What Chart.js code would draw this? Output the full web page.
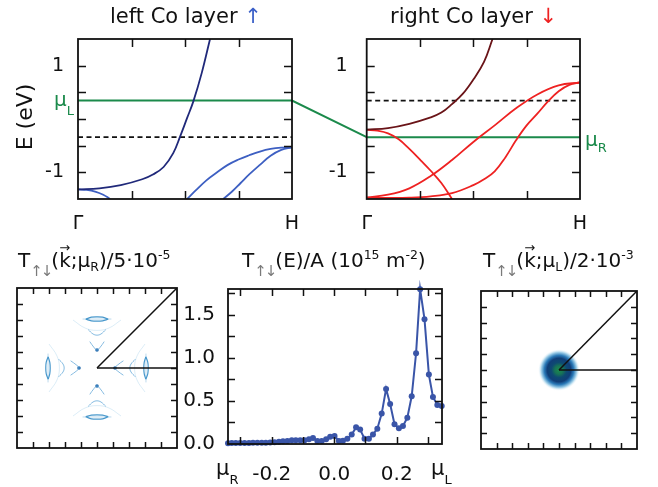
<!DOCTYPE html>
<html lang='en'>
<head>
<meta charset='UTF-8'>
<title>Co layer bands and spin transmission</title>
<script src='https://cdn.jsdelivr.net/npm/chart.js@4.4.1/dist/chart.umd.min.js'></script>
<style>
  body { margin: 0; background: #fff; font-family: 'DejaVu Sans', sans-serif; color: #111; }
  #fig { position: relative; width: 658px; height: 487px; overflow: hidden; }
  canvas { position: absolute; }
  .lbl { position: absolute; white-space: nowrap; line-height: 1; }
  .green { color: #1b8a4b; }
  .ttl { font-size: 20px; }
  .ttl sup { font-size: 12.5px; vertical-align: 8px; line-height: 0; }
  .ttl sub { font-size: 12.5px; vertical-align: -4px; line-height: 0; }
  .ttl sub.ud { color: #7a7a7a; font-size: 15px; vertical-align: -9px; letter-spacing: -2px; }
  .vk { position: relative; display: inline-block; }
  .va { position: absolute; left: 0; top: -9px; font-size: 13px; line-height: 1; }
</style>
</head>
<body>
<div id='fig'>
  <canvas id='bandL' width='380' height='232' style='left:0;top:0'></canvas>
  <canvas id='bandR' width='320' height='232' style='left:300px;top:0'></canvas>
  <canvas id='kmapR' width='200' height='200' style='left:0;top:270px'></canvas>
  <canvas id='trans' width='280' height='217' style='left:180px;top:270px'></canvas>
  <canvas id='kmapL' width='198' height='200' style='left:460px;top:270px'></canvas>

  <div class='lbl' style='left:110px;top:6px;font-size:21px'>left Co layer <span style='color:#3a5fc8'>↑</span></div>
  <div class='lbl' style='left:390px;top:6px;font-size:21px'>right Co layer <span style='color:#ee2222'>↓</span></div>
  <div class='lbl' style='left:25px;top:117px;font-size:22px;transform:translate(-50%,-50%) rotate(-90deg)'>E (eV)</div>
  <div class='lbl green' style='left:54px;top:89px;font-size:20px'>μ<span style='font-size:13px;vertical-align:-9px'>L</span></div>
  <div class='lbl green' style='left:585px;top:129px;font-size:20px'>μ<span style='font-size:13px;vertical-align:-6px'>R</span></div>

  <div class='lbl ttl' style='left:18px;top:250px'>T<sub class='ud'>↑↓</sub>(<span class='vk'>k<span class='va'>→</span></span>;μ<sub>R</sub>)/5·10<sup>-5</sup></div>
  <div class='lbl ttl' style='left:242px;top:250px'>T<sub class='ud'>↑↓</sub>(E)/A (10<sup>15</sup> m<sup>-2</sup>)</div>
  <div class='lbl ttl' style='left:483px;top:250px'>T<sub class='ud'>↑↓</sub>(<span class='vk'>k<span class='va'>→</span></span>;μ<sub>L</sub>)/2·10<sup>-3</sup></div>

  <div class='lbl' style='left:216px;top:458px;font-size:21px'>μ<span style='font-size:13px;vertical-align:-9px'>R</span></div>
  <div class='lbl' style='left:431px;top:458px;font-size:21px'>μ<span style='font-size:13px;vertical-align:-9px'>L</span></div>
</div>
<script>
  // chemical potentials (eV)
  const MU_L = 0.345;
  const MU_R = -0.34;

  // bands along Gamma -> H (k as fraction of the path, E in eV)
  const bandL1 = [[0,-1.32],[0.1,-1.3],[0.2,-1.24],[0.3,-1.13],[0.35,-1.04],[0.4,-0.9],[0.445,-0.64],[0.477,-0.33],[0.51,0.02],[0.539,0.33],[0.578,0.86],[0.617,1.5]];
  const bandL2 = [[0,-1.32],[0.04,-1.33],[0.08,-1.36],[0.118,-1.42],[0.15,-1.5]];
  const bandL3 = [[0.51,-1.5],[0.55,-1.34],[0.6,-1.15],[0.65,-1.0],[0.7,-0.86],[0.75,-0.76],[0.8,-0.68],[0.85,-0.61],[0.9,-0.56],[0.95,-0.535],[1,-0.53]];
  const bandL4 = [[0.679,-1.5],[0.72,-1.36],[0.76,-1.2],[0.8,-1.04],[0.85,-0.86],[0.9,-0.69],[0.95,-0.58],[1,-0.53]];

  const bandR1 = [[0,-0.2],[0.1,-0.17],[0.2,-0.09],[0.3,0.03],[0.35,0.12],[0.4,0.28],[0.45,0.47],[0.5,0.74],[0.55,1.07],[0.59,1.5]];
  const bandR2 = [[0,-0.2],[0.05,-0.22],[0.1,-0.27],[0.15,-0.38],[0.2,-0.56],[0.25,-0.76],[0.3,-0.97],[0.35,-1.2],[0.4,-1.5]];
  const bandR3 = [[0,-1.47],[0.1,-1.42],[0.2,-1.3],[0.3,-1.07],[0.4,-0.77],[0.5,-0.43],[0.6,-0.12],[0.7,0.2],[0.8,0.46],[0.9,0.63],[1,0.685]];
  const bandR4 = [[0,-1.48],[0.1,-1.48],[0.2,-1.475],[0.3,-1.45],[0.4,-1.39],[0.5,-1.24],[0.55,-1.13],[0.6,-0.98],[0.65,-0.72],[0.7,-0.4],[0.75,-0.12],[0.8,0.1],[0.85,0.33],[0.9,0.52],[0.95,0.64],[1,0.685]];

  const bandTicksE = [-1, 1];
  const bandTicksK = [0, 1];
  const bandTickNames = ['Γ', 'H'];

  // energy-resolved transmission
  const energies = [-0.340,-0.328,-0.315,-0.301,-0.287,-0.273,-0.260,-0.246,-0.232,-0.219,-0.205,-0.191,-0.177,-0.164,-0.150,-0.136,-0.123,-0.109,-0.095,-0.081,-0.068,-0.054,-0.040,-0.026,-0.013,0.001,0.015,0.028,0.042,0.056,0.070,0.083,0.097,0.111,0.124,0.138,0.152,0.166,0.179,0.193,0.207,0.220,0.234,0.248,0.262,0.275,0.289,0.303,0.316,0.330,0.344];
  const transmission = [0.010,0.011,0.012,0.012,0.013,0.013,0.014,0.014,0.015,0.015,0.016,0.019,0.027,0.031,0.035,0.043,0.043,0.043,0.043,0.054,0.070,0.035,0.035,0.054,0.085,0.093,0.035,0.039,0.062,0.109,0.194,0.167,0.062,0.062,0.109,0.178,0.353,0.640,0.465,0.229,0.182,0.209,0.306,0.554,1.054,1.798,1.449,0.806,0.547,0.453,0.442];
  const transTicksE = [-0.2, 0.0, 0.2];
  const transTicksT = [0, 0.5, 1.0, 1.5];

  // k-resolved map at mu_R: features seen along +ky (repeated for the other three directions)
  const kLensUpper = [[-0.14,0.61],[-0.07,0.635],[0,0.64],[0.07,0.635],[0.14,0.61]];
  const kLensLower = [[-0.14,0.61],[-0.07,0.59],[0,0.585],[0.07,0.59],[0.14,0.61]];
  const kLensAxis  = [[-0.18,0.612],[0.18,0.612]];
  const kArcOuter  = [[-0.3,0.6],[-0.15,0.5],[0,0.47],[0.15,0.5],[0.3,0.6]];
  const kArcMid    = [[-0.11,0.48],[-0.05,0.425],[0,0.41],[0.05,0.425],[0.11,0.48]];
  const kArcInner  = [[-0.09,0.33],[-0.04,0.26],[0,0.225],[0.04,0.26],[0.09,0.33]];
  const kSpot      = [[0,0.225]];

  // k-resolved map at mu_L: single spot at Gamma
  const spotX = [0], spotY = [0], spotR = [21];

  // Brillouin zone guide lines
  const guideAxis = [[0,0],[1,0]];
  const guideDiag = [[0,0],[1,1]];

  const pts = a => a.map(([x, y]) => ({x, y}));

  Chart.defaults.font.family = "'DejaVu Sans', sans-serif";
  Chart.defaults.color = '#111';
  Chart.defaults.animation = false;
  Chart.defaults.plugins.legend.display = false;
  Chart.defaults.plugins.tooltip.enabled = false;

  // closed frame with inward ticks on all four sides
  const frameTicks = {
    id: 'frameTicks',
    afterDatasetsDraw(chart, args, opts) {
      const {ctx, chartArea: a, scales: {x, y}} = chart;
      const len = opts.len || 6;
      ctx.save();
      ctx.strokeStyle = '#111';
      ctx.lineWidth = 1.5;
      ctx.beginPath();
      (opts.x || []).forEach(v => {
        const p = Math.round(x.getPixelForValue(v)) + 0.5;
        ctx.moveTo(p, a.top); ctx.lineTo(p, a.top + len);
        ctx.moveTo(p, a.bottom); ctx.lineTo(p, a.bottom - len);
      });
      (opts.y || []).forEach(v => {
        const p = Math.round(y.getPixelForValue(v)) + 0.5;
        ctx.moveTo(a.left, p); ctx.lineTo(a.left + len, p);
        ctx.moveTo(a.right, p); ctx.lineTo(a.right - len, p);
      });
      ctx.stroke();
      ctx.lineWidth = 1.8;
      ctx.strokeRect(a.left, a.top, a.width, a.height);
      ctx.restore();
    }
  };
  Chart.register(frameTicks);

  function line(data, color, width, extra) {
    return Object.assign({data: pts(data), borderColor: color, borderWidth: width, pointRadius: 0,
      tension: 0.4, fill: false}, extra || {});
  }

  function bandScales(yWidth, yPad) {
    return {
      x: {type: 'linear', min: 0, max: 1,
          afterBuildTicks: s => { s.ticks = bandTicksK.map(v => ({value: v})); },
          afterFit: s => { s.height = 33; },
          ticks: {callback: (v, i) => bandTickNames[i], padding: 6, font: {size: 19}, maxRotation: 0, autoSkip: false},
          grid: {display: false}, border: {display: false}},
      y: {type: 'linear', min: -1.5, max: 1.5,
          afterBuildTicks: s => { s.ticks = bandTicksE.map(v => ({value: v})); },
          afterFit: s => { s.width = yWidth; },
          ticks: {callback: v => String(v), padding: yPad, font: {size: 19}},
          grid: {display: false}, border: {display: false}}
    };
  }

  const bandTickOpts = {len: 8, x: [0.25, 0.5, 0.75], y: [-1, -0.5, 0, 0.5, 1]};

  // left panel: x = 78..292 px; right panel starts at 366.7 px
  const gapK = (366.7 - 78) / (292 - 78);

  new Chart(document.getElementById('bandL'), {
    type: 'line',
    data: {datasets: [
      line(bandL1, '#20297a', 1.8),
      line(bandL2, '#3d5fc2', 1.8),
      line(bandL3, '#3d5fc2', 1.8),
      line(bandL4, '#3d5fc2', 1.8),
      // mu_L across the panel and down to mu_R at the right panel (listed right to left)
      line([[gapK, MU_R], [1, MU_L], [0, MU_L]], '#1b8a4b', 2, {tension: 0, clip: false}),
      line([[0, MU_R], [1, MU_R]], '#111', 1.6, {borderDash: [5, 3.5], tension: 0})
    ]},
    options: {responsive: false, devicePixelRatio: 1,
      layout: {padding: {top: 39, right: 88, left: 0, bottom: 0}},
      scales: bandScales(78, 6),
      plugins: {frameTicks: bandTickOpts}}
  });

  new Chart(document.getElementById('bandR'), {
    type: 'line',
    data: {datasets: [
      line(bandR1, '#6a1418', 1.8),
      line(bandR2, '#ee2222', 1.8),
      line(bandR3, '#ee2222', 1.8),
      line(bandR4, '#ee2222', 1.8),
      line([[0, MU_R], [1, MU_R]], '#1b8a4b', 2, {tension: 0}),
      line([[0, MU_L], [1, MU_L]], '#111', 1.6, {borderDash: [5, 3.5], tension: 0})
    ]},
    options: {responsive: false, devicePixelRatio: 1,
      layout: {padding: {top: 39, right: 40, left: 0, bottom: 0}},
      scales: bandScales(66.7, 11),
      plugins: {frameTicks: bandTickOpts}}
  });

  new Chart(document.getElementById('trans'), {
    type: 'line',
    data: {datasets: [{
      data: energies.map((e, i) => ({x: e, y: transmission[i]})),
      borderColor: '#3a55a8', backgroundColor: '#3a55a8', borderWidth: 2,
      pointRadius: 3, pointBorderWidth: 0, tension: 0, clip: false
    }]},
    options: {responsive: false, devicePixelRatio: 1,
      layout: {padding: {top: 19, right: 18, left: 0, bottom: 0}},
      scales: {
        x: {type: 'linear', min: MU_R, max: MU_L,
            afterBuildTicks: s => { s.ticks = transTicksE.map(v => ({value: v})); },
            afterFit: s => { s.height = 43; },
            ticks: {callback: v => v.toFixed(1), padding: 11, font: {size: 20}, maxRotation: 0, autoSkip: false},
            grid: {display: false}, border: {display: false}},
        y: {type: 'linear', min: 0, max: 1.8,
            afterBuildTicks: s => { s.ticks = transTicksT.map(v => ({value: v})); },
            afterFit: s => { s.width = 48; },
            ticks: {callback: v => v.toFixed(1), padding: 5, font: {size: 20}},
            grid: {display: false}, border: {display: false}}
      },
      plugins: {frameTicks: {len: 7, x: [-0.3, -0.2, -0.1, 0, 0.1, 0.2, 0.3], y: [0.25, 0.5, 0.75, 1.0, 1.25, 1.5, 1.75]}}}
  });

  const kTicks = [-0.8, -0.6, -0.4, -0.2, 0, 0.2, 0.4, 0.6, 0.8];
  const kScales = {
    x: {type: 'linear', min: -1, max: 1, display: false},
    y: {type: 'linear', min: -1, max: 1, display: false}
  };

  // the four equivalent directions of the square lattice
  const turns = [p => p, ([x, y]) => [x, -y], ([x, y]) => [y, x], ([x, y]) => [-y, x]];
  const kFeatures = [];
  turns.forEach(t => {
    kFeatures.push(line(kArcOuter.map(t), 'rgba(140,195,230,0.3)', 1));
    kFeatures.push(line(kArcMid.map(t), 'rgba(95,165,215,0.75)', 1));
    kFeatures.push(line(kArcInner.map(t), 'rgba(95,165,215,0.75)', 1));
    kFeatures.push(line(kLensUpper.map(t), '#4898cc', 1.2));
    kFeatures.push(line(kLensLower.map(t), '#4898cc', 1.2));
    kFeatures.push(line(kLensAxis.map(t), 'rgba(90,160,210,0.5)', 0.8, {tension: 0}));
    kFeatures.push({type: 'scatter', data: pts(kSpot.map(t)), pointRadius: 1.8, backgroundColor: '#2a6fb0', borderWidth: 0});
  });

  new Chart(document.getElementById('kmapR'), {
    type: 'line',
    data: {datasets: [
      line(guideAxis, '#111', 1.5, {tension: 0, order: 0}),
      line(guideDiag, '#111', 1.5, {tension: 0, order: 0})
    ].concat(kFeatures.map(d => Object.assign(d, {order: 1})))},
    options: {responsive: false, devicePixelRatio: 1,
      layout: {padding: {top: 18, right: 23, left: 17, bottom: 22}},
      scales: kScales,
      plugins: {frameTicks: {len: 6, x: kTicks, y: kTicks}}}
  });

  new Chart(document.getElementById('kmapL'), {
    type: 'line',
    data: {datasets: [
      line(guideAxis, '#111', 1.5, {tension: 0, order: 0}),
      line(guideDiag, '#111', 1.5, {tension: 0, order: 0}),
      {type: 'bubble', order: 1, borderWidth: 0,
       data: spotX.map((x, i) => ({x, y: spotY[i], r: spotR[i]})),
       backgroundColor: c => {
         const ch = c.chart;
         if (!ch.chartArea || !c.raw) return 'rgba(0,0,0,0)';
         const cx = ch.scales.x.getPixelForValue(c.raw.x);
         const cy = ch.scales.y.getPixelForValue(c.raw.y);
         const g = ch.ctx.createRadialGradient(cx, cy, 0, cx, cy, c.raw.r);
         g.addColorStop(0, '#1d8a4e');
         g.addColorStop(0.2, '#177456');
         g.addColorStop(0.36, '#0e4a72');
         g.addColorStop(0.56, '#103e78');
         g.addColorStop(0.7, '#2a7ab8');
         g.addColorStop(0.85, '#a5d2ea');
         g.addColorStop(1, 'rgba(255,255,255,0)');
         return g;
       }}
    ]},
    options: {responsive: false, devicePixelRatio: 1,
      layout: {padding: {top: 19, right: 17, left: 21, bottom: 21}},
      scales: kScales,
      plugins: {frameTicks: {len: 6, x: kTicks, y: kTicks}}}
  });
</script>
</body>
</html>
